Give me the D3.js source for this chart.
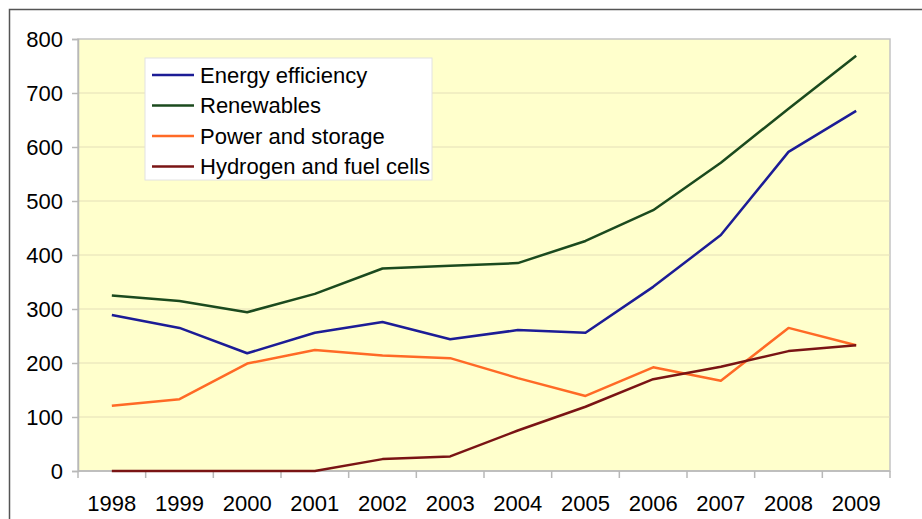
<!DOCTYPE html>
<html>
<head>
<meta charset="utf-8">
<script src="https://cdn.jsdelivr.net/npm/d3@7"></script>
<style>
  body { margin: 0; background: #fff; }
  text { font-family: "Liberation Sans", Arial, sans-serif; fill: #000; }
</style>
</head>
<body>
<script>
// Values
var years = ["1998","1999","2000","2001","2002","2003","2004","2005","2006","2007","2008","2009"];
var energyEfficiency = [289, 265, 218, 256, 276, 244, 261, 256, 341, 437, 591, 667];
var renewables = [325, 315, 294, 328, 375, 380, 385, 426, 483, 571, 671, 769];
var powerStorage = [121, 133, 199, 224, 214, 209, 172, 139, 192, 167, 265, 233];
var hydrogen = [0, 0, 0, 0, 22, 27, 75, 119, 170, 193, 222, 233];
var yTicks = [0, 100, 200, 300, 400, 500, 600, 700, 800];

var seriesNames = ["Energy efficiency", "Renewables", "Power and storage", "Hydrogen and fuel cells"];
var seriesColors = ["#1c1c96", "#1b4a1e", "#ff6a26", "#7a1414"];
var seriesValues = [energyEfficiency, renewables, powerStorage, hydrogen];

var width = 922, height = 519;
var plot = { left: 78, top: 39, right: 890, bottom: 471 };

var svg = d3.select("body").append("svg")
    .attr("width", width)
    .attr("height", height);

// outer chart frame
svg.append("path")
    .attr("d", "M9.5," + height + " V9.5 H" + width)
    .attr("fill", "none")
    .attr("stroke", "#555")
    .attr("stroke-width", 1.5);

// scales
var xScale = d3.scaleBand()
    .domain(years)
    .range([plot.left, plot.right]);

var yScale = d3.scaleLinear()
    .domain([0, 800])
    .range([plot.bottom, plot.top]);

// plot background
svg.append("rect")
    .attr("x", plot.left)
    .attr("y", plot.top)
    .attr("width", plot.right - plot.left)
    .attr("height", plot.bottom - plot.top)
    .attr("fill", "#ffffcc")
    .attr("stroke", "#c4c4c4")
    .attr("stroke-width", 1.5);

// gridlines
svg.append("g")
    .selectAll("line")
    .data(yTicks.slice(1, -1))
    .enter()
    .append("line")
    .attr("x1", plot.left)
    .attr("x2", plot.right)
    .attr("y1", function(d) { return yScale(d); })
    .attr("y2", function(d) { return yScale(d); })
    .attr("stroke", "#e4dfb8")
    .attr("stroke-width", 1);

// y axis
var yAxis = d3.axisLeft(yScale)
    .tickValues(yTicks)
    .tickSize(6)
    .tickPadding(9);

var gy = svg.append("g")
    .attr("transform", "translate(" + plot.left + ",0)")
    .call(yAxis);
gy.select(".domain").attr("stroke", "#b8b8b8").attr("stroke-width", 1.5);
gy.selectAll(".tick line").attr("stroke", "#b8b8b8").attr("stroke-width", 1.5);
gy.selectAll(".tick text")
    .attr("font-size", "22px")
    .attr("font-family", "Liberation Sans, Arial, sans-serif")
    .attr("fill", "#000");

// x axis: ticks sit between the categories
var gx = svg.append("g")
    .attr("transform", "translate(0," + plot.bottom + ")");

gx.append("line")
    .attr("x1", plot.left)
    .attr("x2", plot.right)
    .attr("stroke", "#b8b8b8")
    .attr("stroke-width", 1.5);

var boundaries = years.map(function(y) { return xScale(y); }).concat([plot.right]);
gx.selectAll(".xtick")
    .data(boundaries)
    .enter()
    .append("line")
    .attr("class", "xtick")
    .attr("x1", function(d) { return d; })
    .attr("x2", function(d) { return d; })
    .attr("y1", 0)
    .attr("y2", 7)
    .attr("stroke", "#b8b8b8")
    .attr("stroke-width", 1.5);

gx.selectAll(".xlabel")
    .data(years)
    .enter()
    .append("text")
    .attr("class", "xlabel")
    .attr("x", function(d) { return xScale(d) + xScale.bandwidth() / 2; })
    .attr("y", 40)
    .attr("text-anchor", "middle")
    .attr("font-size", "22px")
    .text(function(d) { return d; });

// lines
var line = d3.line()
    .x(function(d, i) { return xScale(years[i]) + xScale.bandwidth() / 2; })
    .y(function(d) { return yScale(d); });

svg.append("g")
    .selectAll("path")
    .data(seriesValues)
    .enter()
    .append("path")
    .attr("d", function(d) { return line(d); })
    .attr("fill", "none")
    .attr("stroke", function(d, i) { return seriesColors[i]; })
    .attr("stroke-width", 2.5)
    .attr("stroke-linejoin", "round");

// legend
var legend = svg.append("g")
    .attr("transform", "translate(145,58)");

legend.append("rect")
    .attr("width", 287)
    .attr("height", 122)
    .attr("fill", "#fff")
    .attr("stroke", "#e2e2e2")
    .attr("stroke-width", 1);

var items = legend.selectAll(".item")
    .data(seriesNames)
    .enter()
    .append("g")
    .attr("class", "item")
    .attr("transform", function(d, i) { return "translate(0," + (17 + i * 30.5) + ")"; });

items.append("line")
    .attr("x1", 7)
    .attr("x2", 49)
    .attr("stroke", function(d, i) { return seriesColors[i]; })
    .attr("stroke-width", 2.5);

items.append("text")
    .attr("x", 55)
    .attr("y", 7.5)
    .attr("font-size", "22px")
    .text(function(d) { return d; });
</script>
</body>
</html>
